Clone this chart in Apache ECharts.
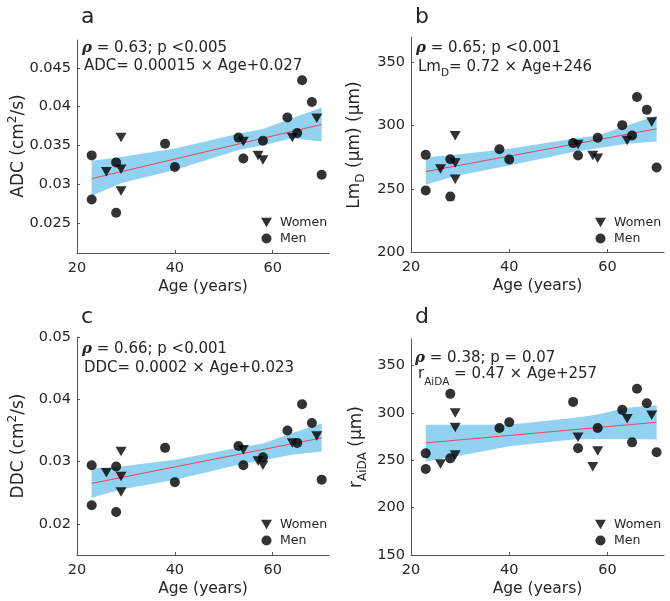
<!DOCTYPE html>
<html><head><meta charset="utf-8">
<script src="https://cdn.jsdelivr.net/npm/echarts@6/dist/echarts.min.js"></script>
<style>html,body{margin:0;padding:0;background:#fff}#c{width:670px;height:601px}</style>
</head><body><div id="c"></div>
<script>
// ---- shared ages ----
const menAge   = [23, 23, 28, 28, 38, 40, 53, 54, 58, 63, 65, 66, 68, 70];
const womenAge = [26, 29, 29, 29, 54, 57, 58, 64, 69];
const bandAge  = [23, 29, 40, 53, 58, 64, 70];
const fitAge   = [23, 70];
const xTicks   = [20, 40, 60];

// ---- panel a: ADC ----
const adcMen   = [0.0337, 0.0280, 0.0328, 0.0263, 0.0352, 0.0322, 0.0360, 0.0333, 0.0356, 0.0386, 0.0366, 0.0434, 0.0406, 0.0312];
const adcWomen = [0.0316, 0.0360, 0.0319, 0.0291, 0.0355, 0.0337, 0.0331, 0.0360, 0.0385];
const adcUpper = [0.0330, 0.0335, 0.0346, 0.0365, 0.0371, 0.0385, 0.0399];
const adcLower = [0.0285, 0.0301, 0.0318, 0.0344, 0.0350, 0.0359, 0.0355];
const adcFit   = [0.0307, 0.0377];
const adcTicks = [0.025, 0.03, 0.035, 0.04, 0.045];

// ---- panel b: LmD ----
const lmMen   = [276.8, 248.6, 273.4, 243.8, 281.3, 273.1, 286.1, 276.3, 290.3, 300.3, 292.1, 322.5, 312.4, 266.8];
const lmWomen = [265.7, 291.9, 270.3, 257.6, 285.0, 276.3, 274.2, 288.1, 302.7];
const lmUpper = [275.0, 276.8, 281.6, 289.5, 292.1, 300.0, 307.9];
const lmLower = [253.1, 260.0, 268.4, 279.0, 282.1, 285.5, 287.3];
const lmFit   = [263.6, 297.4];
const lmTicks = [200, 250, 300, 350];

// ---- panel c: DDC ----
const ddcMen   = [0.0294, 0.0230, 0.0292, 0.0219, 0.0322, 0.0267, 0.0325, 0.0294, 0.0307, 0.0350, 0.0330, 0.0392, 0.0362, 0.0271];
const ddcWomen = [0.0282, 0.0316, 0.0276, 0.0251, 0.0319, 0.0301, 0.0294, 0.0330, 0.0341];
const ddcUpper = [0.0289, 0.0292, 0.0303, 0.0322, 0.0329, 0.0346, 0.0361];
const ddcLower = [0.0242, 0.0255, 0.0271, 0.0295, 0.0302, 0.0311, 0.0316];
const ddcFit   = [0.0265, 0.0338];
const ddcTicks = [0.02, 0.03, 0.04, 0.05];

// ---- panel d: rAiDA ----
const rMen   = [257.3, 240.8, 320.1, 252.0, 284.1, 290.1, 311.6, 262.6, 284.1, 303.2, 268.9, 325.4, 310.2, 258.4];
const rWomen = [246.1, 300.0, 284.5, 255.6, 274.2, 243.2, 259.8, 293.7, 297.5];
const rUpper = [287.6, 287.6, 287.6, 294.7, 298.2, 305.3, 308.0];
const rLower = [248.8, 254.1, 264.7, 271.8, 272.5, 272.5, 271.8];
const rFit   = [268.3, 290.1];
const rTicks = [150, 200, 250, 300, 350];

const FONT = 'DejaVu Sans';
const TXT = '#262626';
const AX = '#555';
const BAND = '#91d2f1';
const FITC = '#e2485a';
const TRI = 'path://M0,0L10,0L5,8.66Z';

const panels = [
  {grid:{left:77, top:40, width:252, height:213}, ymin:0.0211, ymax:0.0486, ticks:adcTicks,
   men:adcMen, women:adcWomen, up:adcUpper, lo:adcLower, fit:adcFit, leg:{left:256, top:211}},
  {grid:{left:411, top:37, width:253, height:215}, ymin:200, ymax:370, ticks:lmTicks,
   men:lmMen, women:lmWomen, up:lmUpper, lo:lmLower, fit:lmFit, leg:{left:590, top:211}},
  {grid:{left:77, top:337, width:252, height:218}, ymin:0.015, ymax:0.05, ticks:ddcTicks,
   men:ddcMen, women:ddcWomen, up:ddcUpper, lo:ddcLower, fit:ddcFit, leg:{left:256, top:513}},
  {grid:{left:411, top:339, width:253, height:216}, ymin:150, ymax:378, ticks:rTicks,
   men:rMen, women:rWomen, up:rUpper, lo:rLower, fit:rFit, leg:{left:590, top:513}}
];

const grid = [], xAxis = [], yAxis = [], series = [], legend = [];
panels.forEach((p, k) => {
  grid.push(Object.assign({outerBoundsMode:'none', containLabel:false}, p.grid));
  xAxis.push({
    type:'value', gridIndex:k, min:20, max:71.5,
    name:'Age (years)', nameLocation:'middle', nameGap:26,
    nameTextStyle:{fontFamily:FONT, fontSize:15.5, color:TXT},
    axisLine:{show:true, lineStyle:{color:AX, width:1}},
    axisTick:{show:true, inside:true, length:3, customValues:xTicks, lineStyle:{color:AX}},
    axisLabel:{customValues:xTicks, margin:8, fontFamily:FONT, fontSize:14.5, color:TXT},
    splitLine:{show:false}
  });
  yAxis.push({
    type:'value', gridIndex:k, min:p.ymin, max:p.ymax,
    axisLine:{show:true, lineStyle:{color:AX, width:1}},
    axisTick:{show:true, inside:true, length:3, customValues:p.ticks, lineStyle:{color:AX}},
    axisLabel:{customValues:p.ticks, margin:6, fontFamily:FONT, fontSize:14.5, color:TXT,
      formatter: v => String(+v.toFixed(6))},
    splitLine:{show:false}
  });
  const up = p.up, lo = p.lo;
  series.push({
    type:'custom', xAxisIndex:k, yAxisIndex:k, silent:true, z:1,
    data: bandAge.map((x, i) => [x, up[i], lo[i]]),
    renderItem: (params, api) => {
      if (params.dataIndex !== 0) return null;
      const pts = [];
      for (let i = 0; i < bandAge.length; i++) pts.push(api.coord([bandAge[i], up[i]]));
      for (let i = bandAge.length - 1; i >= 0; i--) pts.push(api.coord([bandAge[i], lo[i]]));
      return {type:'polygon', shape:{points:pts}, style:{fill:BAND}};
    }
  });
  series.push({
    type:'line', xAxisIndex:k, yAxisIndex:k, z:2, silent:true, showSymbol:false,
    data: fitAge.map((x, i) => [x, p.fit[i]]),
    lineStyle:{color:FITC, width:1}
  });
  series.push({
    name:'Women', type:'scatter', xAxisIndex:k, yAxisIndex:k, z:3,
    symbol:TRI, symbolSize:[11, 9.5], itemStyle:{color:'#000'},
    data: womenAge.map((x, i) => [x, p.women[i]])
  });
  series.push({
    name:'Men', type:'scatter', xAxisIndex:k, yAxisIndex:k, z:3,
    symbol:'circle', symbolSize:10, itemStyle:{color:'#000'},
    data: menAge.map((x, i) => [x, p.men[i]])
  });
  legend.push({
    left:p.leg.left, top:p.leg.top, orient:'vertical', itemGap:3, itemWidth:11, itemHeight:10,
    selectedMode:false,
    textStyle:{fontFamily:FONT, fontSize:12.5, color:TXT, padding:[0,0,0,3]},
    data:[{name:'Women', icon:TRI}, {name:'Men', icon:'circle'}]
  });
});

const base = {fontFamily:FONT, fill:TXT};
const rich = {
  rho:{fontFamily:'DejaVu Serif', fontStyle:'italic', fontWeight:'bold', fontSize:15, fill:TXT},
  n:{fontFamily:FONT, fontSize:15, fill:TXT},
  sub:{fontFamily:FONT, fontSize:10.5, fill:TXT, padding:[12,0,0,0]},
  subB:{fontFamily:FONT, fontSize:10.5, fill:TXT, padding:[16,0,0,0]},
  yl:{fontFamily:FONT, fontSize:17, fill:TXT},
  ysub:{fontFamily:FONT, fontSize:12, fill:TXT, padding:[12,0,0,0]},
  ysup:{fontFamily:FONT, fontSize:12, fill:TXT, padding:[0,0,12,0]}
};
function txt(x, y, text, opts) {
  return Object.assign({type:'text', x:x, y:y, silent:true, z:10,
    style:Object.assign({text:text, rich:rich, fontSize:15, align:'left', verticalAlign:'middle'}, base, (opts||{}).style)},
    (opts||{}).el);
}
const ROT = {style:{align:'center'}, el:{rotation:Math.PI/2}};
const graphic = [
  txt(81, 17, 'a', {style:{fontSize:22}}),
  txt(415, 17, 'b', {style:{fontSize:22}}),
  txt(81, 317, 'c', {style:{fontSize:22}}),
  txt(415, 317, 'd', {style:{fontSize:22}}),
  // annotations
  txt(82, 48, '{rho|ρ}{n| = 0.63; p <0.005}'),
  txt(84, 66, '{n|ADC= 0.00015 × Age+0.027}'),
  txt(416, 48, '{rho|ρ}{n| = 0.65; p <0.001}'),
  txt(418, 67, '{n|Lm}{sub|D}{n|= 0.72 × Age+246}'),
  txt(82, 349, '{rho|ρ}{n| = 0.66; p <0.001}'),
  txt(84, 368, '{n|DDC= 0.0002 × Age+0.023}'),
  txt(415, 358, '{rho|ρ}{n| = 0.38; p = 0.07}'),
  txt(418, 374, '{n|r}{subB|AiDA}{n| = 0.47 × Age+257}'),
  // y-axis titles (rotated)
  txt(19, 146, '{yl|ADC (cm}{ysup|2}{yl|/s)}', ROT),
  txt(355, 145, '{yl|Lm}{ysub|D}{yl| (μm) (μm)}', ROT),
  txt(19, 446, '{yl|DDC (cm}{ysup|2}{yl|/s)}', ROT),
  txt(357, 447, '{yl|r}{ysub|AiDA}{yl| (μm)}', ROT)
];

const chart = echarts.init(document.getElementById('c'), null, {renderer:'canvas'});
chart.setOption({
  animation:false, backgroundColor:'#fff',
  grid, xAxis, yAxis, series, legend, graphic
});
</script></body></html>
